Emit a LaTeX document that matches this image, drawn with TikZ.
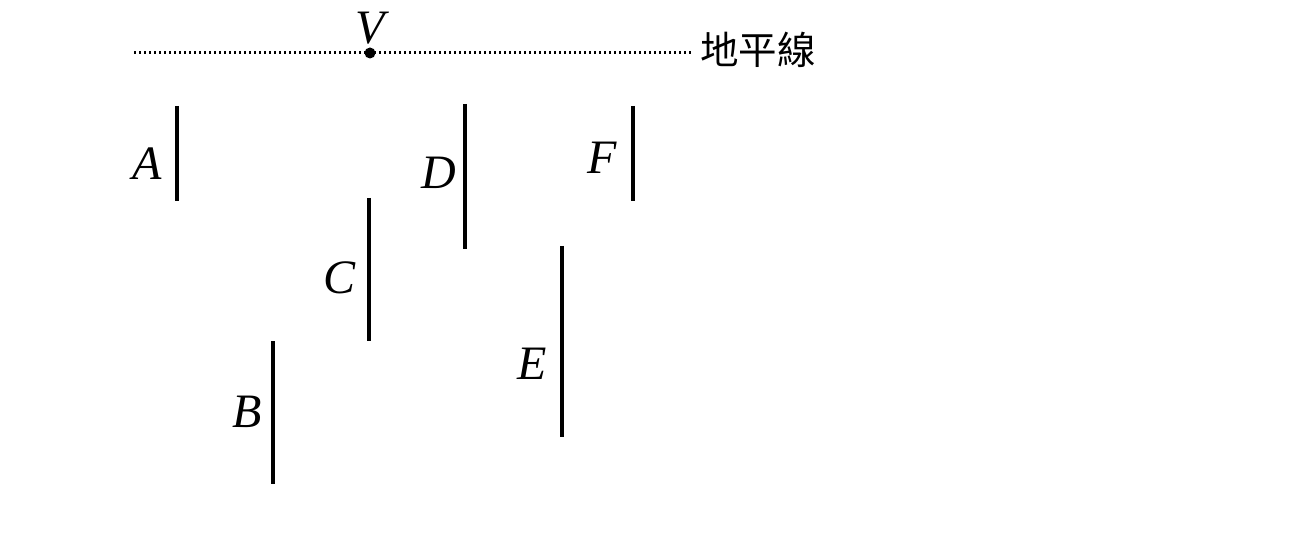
\documentclass[tikz,border=0pt]{standalone}
\usepackage{fontspec}
\setmainfont{Liberation Serif}
\newfontfamily\cjk{Noto Sans CJK TC}
\begin{document}
\begin{tikzpicture}[x=1pt, y=-1pt]
\tikzstyle{pole}=[line width=3.2pt]
\tikzstyle{letter}=[inner sep=0pt, font=\fontsize{48}{48}\selectfont\itshape]
\tikzstyle{horizon}=[line width=3pt, dash pattern=on 2.2pt off 2.8pt]
\tikzstyle{vanish}=[circle, fill=black, inner sep=0pt, minimum size=11pt]
\useasboundingbox (0,0) rectangle (1300,545);

% horizon line and vanishing point
\coordinate (h left) at (134,53);
\coordinate (h right) at (693,53);
\node[inner sep=0pt, anchor=west, font=\cjk\fontsize{38.5}{38.5}\selectfont] (horizon text) at (700,50) {地平線};
\draw[horizon] (h left) -- (h right);
\node[vanish] (V) at (370,53) {};
\node[letter] (V label) at (370,28) {V};

% poles
\coordinate (A top) at (177,106); \coordinate (A bottom) at (177,201);
\coordinate (B top) at (273,341); \coordinate (B bottom) at (273,484);
\coordinate (C top) at (369,198); \coordinate (C bottom) at (369,341);
\coordinate (D top) at (465,104); \coordinate (D bottom) at (465,249);
\coordinate (E top) at (562,246); \coordinate (E bottom) at (562,437);
\coordinate (F top) at (633,106); \coordinate (F bottom) at (633,201);
\draw[pole] (A top) -- (A bottom);
\draw[pole] (B top) -- (B bottom);
\draw[pole] (C top) -- (C bottom);
\draw[pole] (D top) -- (D bottom);
\draw[pole] (E top) -- (E bottom);
\draw[pole] (F top) -- (F bottom);

\node[letter] (A label) at (147,164) {A};
\node[letter] (B label) at (247,412) {B};
\node[letter] (C label) at (340,278) {C};
\node[letter] (D label) at (439,173) {D};
\node[letter] (E label) at (532,364) {E};
\node[letter] (F label) at (602,158) {F};

\end{tikzpicture}
\end{document}
